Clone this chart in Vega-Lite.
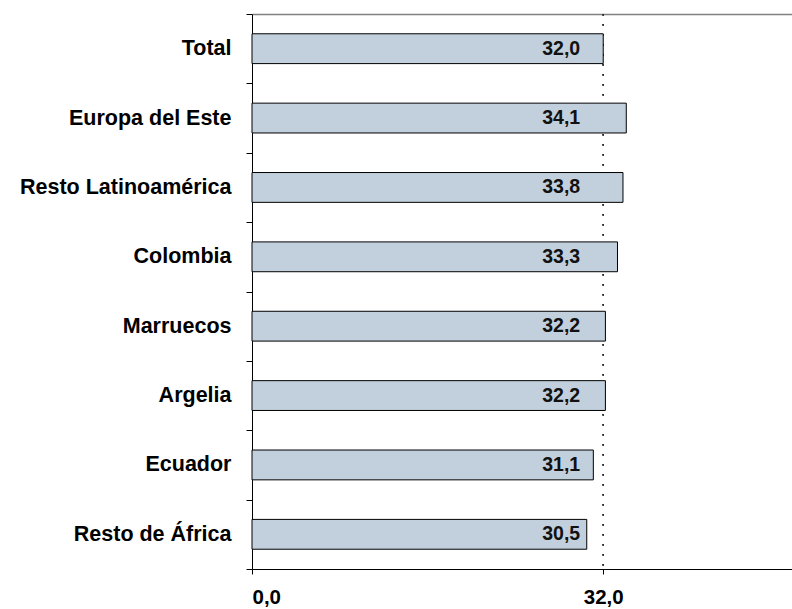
{
  "$schema": "https://vega.github.io/schema/vega-lite/v6.json",
  "width": 540,
  "height": 555,
  "autosize": "none",
  "padding": {"left": 252, "top": 14, "right": 0, "bottom": 40},
  "background": "white",
  "config": {
    "view": {"stroke": null},
    "font": "Liberation Sans",
    "locale": {"number": {"decimal": ",", "thousands": ".", "grouping": [3], "currency": ["", " €"]}}
  },
  "data": {
    "values": [
      {"region": "Total", "value": 32.0},
      {"region": "Europa del Este", "value": 34.1},
      {"region": "Resto Latinoamérica", "value": 33.8},
      {"region": "Colombia", "value": 33.3},
      {"region": "Marruecos", "value": 32.2},
      {"region": "Argelia", "value": 32.2},
      {"region": "Ecuador", "value": 31.1},
      {"region": "Resto de África", "value": 30.5}
    ]
  },
  "encoding": {
    "y": {
      "field": "region",
      "type": "nominal",
      "sort": null,
      "scale": {"paddingInner": 0, "paddingOuter": 0},
      "axis": {
        "title": null,
        "domainColor": "black",
        "tickColor": "black",
        "tickSize": 6,
        "tickBand": "extent",
        "labelFont": "Liberation Sans",
        "labelFontWeight": "bold",
        "labelFontSize": 21.5,
        "labelColor": "black",
        "labelPadding": 15,
        "labelLimit": 400
      }
    }
  },
  "layer": [
    {
      "mark": {"type": "rule", "color": "#333333", "strokeDash": [1.5, 8.5], "strokeWidth": 1},
      "encoding": {
        "x": {
          "datum": 32,
          "type": "quantitative",
          "scale": {"domain": [0, 49.2], "nice": false, "zero": true},
          "axis": {
            "orient": "top",
            "title": null,
            "labels": false,
            "ticks": false,
            "grid": false,
            "domainColor": "#808080",
            "domainWidth": 1.5
          }
        },
        "y": null
      }
    },
    {
      "mark": {"type": "bar", "fill": "#C2CFDC", "stroke": "black", "strokeWidth": 1, "height": {"band": 0.43}},
      "encoding": {
        "x": {
          "field": "value",
          "type": "quantitative",
          "scale": {"domain": [0, 49.2], "nice": false, "zero": true},
          "axis": {
            "orient": "bottom",
            "title": null,
            "values": [0, 32],
            "format": ".1f",
            "grid": false,
            "domainColor": "black",
            "tickColor": "black",
            "tickSize": 5,
            "labelFont": "Liberation Sans",
            "labelFontWeight": "bold",
            "labelFontSize": 20.5,
            "labelColor": "black",
            "labelPadding": 13
          }
        }
      }
    },
    {
      "mark": {"type": "text", "align": "right", "baseline": "middle", "font": "Liberation Sans", "fontWeight": "bold", "fontSize": 19.5, "color": "#111111"},
      "encoding": {
        "x": {"datum": 29.9, "type": "quantitative", "axis": null},
        "text": {"field": "value", "type": "quantitative", "format": ".1f"}
      }
    }
  ],
  "resolve": {"axis": {"x": "independent"}}
}
